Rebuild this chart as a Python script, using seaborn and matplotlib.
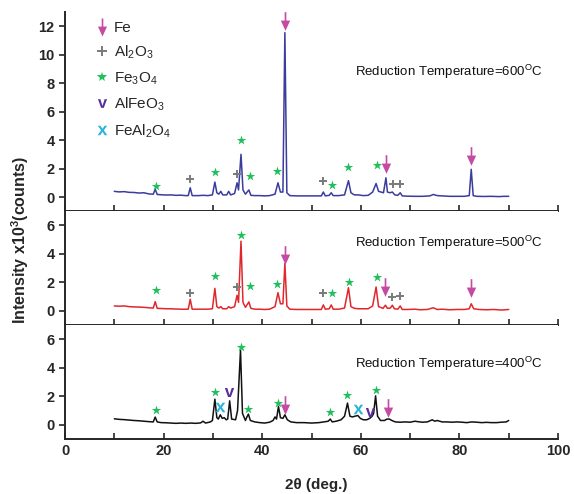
import numpy as np
import pandas as pd
import matplotlib
matplotlib.use("Agg")
import matplotlib.pyplot as plt
import seaborn as sns
from matplotlib.path import Path
from matplotlib.lines import Line2D
from matplotlib.ticker import MultipleLocator

sns.set_theme(style="ticks")
plt.rcParams["font.family"] = ["Liberation Sans", "DejaVu Sans"]
plt.rcParams["mathtext.fontset"] = "custom"
plt.rcParams["mathtext.rm"] = "Liberation Sans"
plt.rcParams["mathtext.bf"] = "Liberation Sans:bold"

# ---------------- data: XRD patterns (2theta, intensity x10^3 counts) -------------
x600 = [10.0, 11.0, 12.0, 13.0, 14.0, 15.0, 16.0, 17.0, 17.9, 18.3, 18.7, 19.5, 20.5, 21.5, 22.5,
        23.5, 24.5, 25.0, 25.4, 25.8, 27.0, 28.0, 29.0, 29.9, 30.4, 30.8, 31.2, 31.6, 32.0, 32.8,
        33.2, 33.6, 34.4, 34.9, 35.2, 35.7, 36.1, 36.6, 37.3, 37.7, 38.5, 39.5, 40.5, 41.5, 42.6,
        43.2, 43.7, 44.2, 44.6, 45.0, 45.6, 47.0, 48.5, 50.0, 51.5, 52.0, 52.4, 52.8, 53.6, 54.0,
        54.4, 55.5, 56.7, 57.5, 58.0, 58.7, 59.5, 60.5, 61.5, 62.4, 63.1, 63.6, 64.6, 65.1, 65.4,
        65.9, 66.4, 66.9, 67.5, 68.0, 68.4, 69.5, 71.0, 72.5, 74.0, 74.7, 75.5, 76.5, 78.0, 79.5,
        81.0, 82.0, 82.4, 82.8, 83.5, 85.0, 86.5, 88.0, 89.0, 90.0]
y600 = [0.40, 0.36, 0.38, 0.33, 0.32, 0.28, 0.30, 0.22, 0.20, 0.55, 0.18, 0.16, 0.14, 0.15, 0.12,
        0.13, 0.10, 0.10, 0.65, 0.10, 0.10, 0.12, 0.10, 0.15, 1.05, 0.30, 0.20, 0.40, 0.15, 0.15,
        0.40, 0.15, 0.25, 1.00, 0.50, 3.00, 0.50, 0.20, 0.50, 0.12, 0.10, 0.10, 0.08, 0.10, 0.20,
        1.00, 0.35, 0.35, 11.55, 0.30, 0.10, 0.08, 0.08, 0.08, 0.08, 0.08, 0.35, 0.08, 0.12, 0.30,
        0.10, 0.10, 0.15, 1.15, 0.30, 0.15, 0.15, 0.10, 0.12, 0.35, 0.95, 0.40, 0.30, 1.35, 0.35,
        0.30, 0.35, 0.15, 0.12, 0.30, 0.08, 0.06, 0.05, 0.05, 0.08, 0.18, 0.10, 0.08, 0.05, 0.05,
        0.05, 0.10, 1.95, 0.10, 0.05, 0.04, 0.05, 0.03, 0.05, 0.05]

x500 = [10.0, 11.0, 12.0, 13.0, 14.0, 15.0, 16.0, 17.0, 17.9, 18.3, 18.7, 19.5, 20.5, 21.5, 22.5,
        23.5, 24.5, 25.0, 25.4, 25.8, 27.0, 28.0, 29.0, 29.9, 30.4, 30.8, 31.2, 31.6, 32.0, 32.8,
        33.2, 33.6, 34.4, 34.9, 35.2, 35.7, 36.1, 36.6, 37.3, 37.7, 38.5, 39.5, 40.5, 41.5, 42.6,
        43.2, 43.7, 44.2, 44.6, 45.0, 45.6, 47.0, 48.5, 50.0, 51.5, 52.0, 52.4, 52.8, 53.6, 54.0,
        54.4, 55.5, 56.7, 57.5, 58.0, 58.7, 59.5, 60.5, 61.5, 62.4, 63.1, 63.6, 64.5, 65.0, 65.4,
        66.0, 66.4, 66.8, 67.5, 68.0, 68.4, 69.5, 71.0, 72.0, 73.5, 74.7, 75.5, 76.5, 78.0, 79.5,
        81.0, 82.0, 82.4, 82.9, 84.0, 85.5, 87.0, 88.5, 90.0]
y500 = [0.35, 0.33, 0.35, 0.30, 0.28, 0.27, 0.25, 0.22, 0.20, 0.65, 0.18, 0.17, 0.15, 0.15, 0.13,
        0.12, 0.12, 0.12, 0.82, 0.12, 0.12, 0.12, 0.12, 0.15, 1.58, 0.30, 0.20, 0.30, 0.15, 0.15,
        0.30, 0.20, 0.30, 1.10, 0.60, 4.90, 0.60, 0.25, 0.63, 0.18, 0.12, 0.12, 0.10, 0.12, 0.30,
        1.28, 0.50, 0.50, 3.33, 0.35, 0.12, 0.10, 0.10, 0.10, 0.10, 0.10, 0.42, 0.12, 0.15, 0.42,
        0.12, 0.12, 0.20, 1.63, 0.30, 0.18, 0.15, 0.15, 0.15, 0.35, 1.68, 0.30, 0.18, 0.40, 0.18,
        0.20, 0.40, 0.15, 0.12, 0.35, 0.10, 0.10, 0.12, 0.08, 0.10, 0.22, 0.10, 0.12, 0.08, 0.10,
        0.10, 0.15, 0.50, 0.15, 0.10, 0.08, 0.10, 0.06, 0.10]

x400 = [10.0, 11.0, 12.0, 13.0, 14.0, 15.0, 16.0, 17.0, 17.9, 18.3, 18.7, 19.5, 20.5, 21.5, 22.5,
        23.5, 24.5, 25.5, 26.5, 27.5, 28.0, 28.5, 29.5, 29.9, 30.4, 30.8, 31.1, 31.5, 31.9, 32.3,
        32.7, 33.0, 33.4, 33.8, 34.6, 35.0, 35.6, 36.0, 36.6, 36.9, 37.2, 37.6, 38.5, 39.5, 40.5,
        41.5, 42.2, 42.6, 42.9, 43.3, 43.7, 44.2, 44.6, 45.1, 45.8, 47.0, 48.5, 50.0, 51.5, 52.5,
        53.4, 53.8, 54.2, 55.0, 56.0, 56.7, 57.3, 57.8, 58.3, 58.8, 59.4, 59.9, 60.5, 61.2, 61.8,
        62.3, 62.6, 63.0, 63.4, 64.0, 64.8, 65.3, 65.8, 66.3, 67.0, 68.0, 69.0, 70.0, 71.0, 71.5,
        72.5, 73.5, 74.5, 75.0, 75.5, 76.5, 77.5, 78.5, 79.5, 80.5, 81.5, 82.5, 83.5, 84.5, 85.5,
        86.5, 87.5, 88.5, 89.5, 90.0]
y400 = [0.42, 0.38, 0.36, 0.33, 0.30, 0.28, 0.25, 0.22, 0.20, 0.54, 0.20, 0.15, 0.14, 0.12, 0.10,
        0.12, 0.10, 0.12, 0.10, 0.13, 0.25, 0.12, 0.20, 0.30, 1.80, 0.50, 0.40, 0.70, 0.45, 0.50,
        0.35, 0.40, 1.68, 0.40, 0.35, 1.00, 5.25, 0.80, 0.30, 0.55, 0.75, 0.30, 0.20, 0.15, 0.12,
        0.18, 0.30, 0.55, 0.40, 1.28, 0.50, 0.45, 0.70, 0.35, 0.20, 0.15, 0.15, 0.12, 0.15, 0.20,
        0.25, 0.40, 0.20, 0.25, 0.35, 0.60, 1.52, 0.60, 0.55, 0.60, 0.65, 0.45, 0.35, 0.35, 0.45,
        0.60, 0.80, 2.03, 0.60, 0.30, 0.30, 0.40, 0.40, 0.30, 0.20, 0.18, 0.20, 0.18, 0.25, 0.22,
        0.18, 0.20, 0.35, 0.25, 0.30, 0.20, 0.20, 0.18, 0.20, 0.18, 0.15, 0.20, 0.18, 0.15, 0.17,
        0.15, 0.15, 0.18, 0.20, 0.30]

# ---------------- phase marker positions (2theta, height) -------------------------
fe_600_x = [44.6, 65.1, 82.4];             fe_600_y = [12.35, 2.3, 2.85]
al2o3_600_x = [25.4, 34.8, 52.3, 66.5, 67.9]; al2o3_600_y = [1.3, 1.65, 1.13, 0.9, 0.9]
fe3o4_600_x = [18.4, 30.4, 35.8, 37.5, 43.1, 54.1, 57.5, 63.2]
fe3o4_600_y = [0.77, 1.76, 4.0, 1.48, 1.83, 0.85, 2.1, 2.23]

fe_500_x = [44.6, 65.0, 82.4];             fe_500_y = [3.9, 1.65, 1.6]
al2o3_500_x = [25.4, 34.8, 52.4, 66.4, 68.0]; al2o3_500_y = [1.28, 1.68, 1.28, 1.0, 1.05]
fe3o4_500_x = [18.4, 30.4, 35.8, 37.5, 43.1, 54.1, 57.6, 63.2]
fe3o4_500_y = [1.45, 2.45, 5.35, 1.75, 1.9, 1.24, 2.05, 2.4]

fe_400_x = [44.6, 65.6];                   fe_400_y = [1.4, 1.15]
fe3o4_400_x = [18.4, 30.5, 35.6, 37.2, 43.2, 53.8, 57.3, 63.0]
fe3o4_400_y = [1.05, 2.28, 5.43, 1.12, 1.52, 0.93, 2.1, 2.45]
alfeo3_400_x = [33.3, 61.9];               alfeo3_400_y = [2.28, 0.89]
feal2o4_400_x = [31.5, 59.4];              feal2o4_400_y = [1.24, 1.12]

phase_labels = ["Fe", "Al$_2$O$_3$", "Fe$_3$O$_4$", "AlFeO$_3$", "FeAl$_2$O$_4$"]
temps = ["600", "500", "400"]

# ---------------- styles ---------------------------------------------------------
line_colors = ["#3a3c9e", "#e0282c", "#111111"]
c_fe, c_al, c_st, c_v, c_x = "#c44aa2", "#7a7a7a", "#1fbf5c", "#5a2d9e", "#2bb4d8"

arrow = Path([(-0.09, 1.0), (0.09, 1.0), (0.09, 0.1), (0.5, 0.1), (0.0, -1.0),
              (-0.5, 0.1), (-0.09, 0.1), (-0.09, 1.0)],
             [Path.MOVETO] + [Path.LINETO] * 6 + [Path.CLOSEPOLY])

fig = plt.figure(figsize=(5.74, 4.94), dpi=100)
gs = fig.add_gridspec(3, 1, height_ratios=[14, 8, 8], hspace=0,
                      left=65 / 574, right=558 / 574, top=1 - 12 / 494, bottom=1 - 439 / 494)
axes = [fig.add_subplot(gs[i]) for i in range(3)]

curves = [(x600, y600), (x500, y500), (x400, y400)]
ylims = [(-1, 13), (-1, 7), (-1, 7)]
yticks = [np.arange(0, 13, 2), np.arange(0, 7, 2), np.arange(0, 7, 2)]
text_y = [8.8, 4.8, 4.3]

ms_arrow = 180
for i, ax in enumerate(axes):
    xs, ys = curves[i]
    df = pd.DataFrame({"x": xs, "y": ys})
    sns.lineplot(data=df, x="x", y="y", ax=ax, color=line_colors[i], lw=1.1,
                 sort=False, estimator=None)
    ax.set_xlim(0, 100)
    ax.set_ylim(*ylims[i])
    ax.set_yticks(yticks[i])
    ax.xaxis.set_major_locator(MultipleLocator(20))
    ax.xaxis.set_minor_locator(MultipleLocator(10))
    ax.tick_params(axis="x", which="both", direction="in", length=4, width=1.2)
    ax.tick_params(axis="y", direction="out", length=4, width=1.2)
    for lab in ax.get_yticklabels():
        lab.set_fontweight("bold")
        lab.set_fontsize(10.5)
    ax.set_xlabel("")
    ax.set_ylabel("")
    sns.despine(ax=ax)
    for s in ["left", "bottom"]:
        ax.spines[s].set_linewidth(1.4)
    ax.text(58.8, text_y[i], "Reduction Temperature=" + temps[i] + "$^{\\mathrm{O}}$C",
            fontsize=9.5, ha="left", va="center", color="#111111")
    if i < 2:
        ax.tick_params(axis="x", labelbottom=False)
    else:
        for lab in ax.get_xticklabels():
            lab.set_fontweight("bold")
            lab.set_fontsize(10.5)

def draw(ax, xs, ys, **kw):
    sns.scatterplot(x=xs, y=ys, ax=ax, legend=False, zorder=5, **kw)

# 600 C
draw(axes[0], fe_600_x, fe_600_y, marker=arrow, s=ms_arrow, color=c_fe, linewidth=0)
draw(axes[0], al2o3_600_x, al2o3_600_y, marker="+", s=40, color=c_al, linewidth=1.4)
draw(axes[0], fe3o4_600_x, fe3o4_600_y, marker="*", s=50, color=c_st, linewidth=0)
# 500 C
draw(axes[1], fe_500_x, fe_500_y, marker=arrow, s=ms_arrow, color=c_fe, linewidth=0)
draw(axes[1], al2o3_500_x, al2o3_500_y, marker="+", s=40, color=c_al, linewidth=1.4)
draw(axes[1], fe3o4_500_x, fe3o4_500_y, marker="*", s=50, color=c_st, linewidth=0)
# 400 C
draw(axes[2], fe_400_x, fe_400_y, marker=arrow, s=ms_arrow, color=c_fe, linewidth=0)
draw(axes[2], fe3o4_400_x, fe3o4_400_y, marker="*", s=50, color=c_st, linewidth=0)
draw(axes[2], alfeo3_400_x, alfeo3_400_y, marker="$\\mathbf{v}$", s=45, color=c_v, linewidth=0)
draw(axes[2], feal2o4_400_x, feal2o4_400_y, marker="$\\mathbf{x}$", s=50, color=c_x, linewidth=0)

for ax in axes:
    ax.set_xlabel("")
    ax.set_ylabel("")

handles = [
    Line2D([], [], ls="none", marker=arrow, markersize=13, color=c_fe, markeredgewidth=0),
    Line2D([], [], ls="none", marker="+", markersize=6.5, color=c_al, markeredgewidth=1.4),
    Line2D([], [], ls="none", marker="*", markersize=7.5, color=c_st, markeredgewidth=0),
    Line2D([], [], ls="none", marker="$\\mathbf{v}$", markersize=6.5, color=c_v, markeredgewidth=0),
    Line2D([], [], ls="none", marker="$\\mathbf{x}$", markersize=7, color=c_x, markeredgewidth=0),
]
axes[0].legend(handles, phase_labels, loc="upper left", bbox_to_anchor=(0.057, 0.97),
               frameon=False, fontsize=11, handlelength=0.8, handletextpad=0.35,
               labelspacing=0.57, borderpad=0.2, borderaxespad=0)

fig.text(0.035, 0.515, "Intensity x10$^\\mathbf{3}$(counts)", rotation=90, ha="center",
         va="center", fontsize=11.5, fontweight="bold")
fig.text(316 / 574, 1 - 485 / 494, "2\u03b8 (deg.)", ha="center", va="center",
         fontsize=11, fontweight="bold")

fig.savefig("out.png", dpi=100)
